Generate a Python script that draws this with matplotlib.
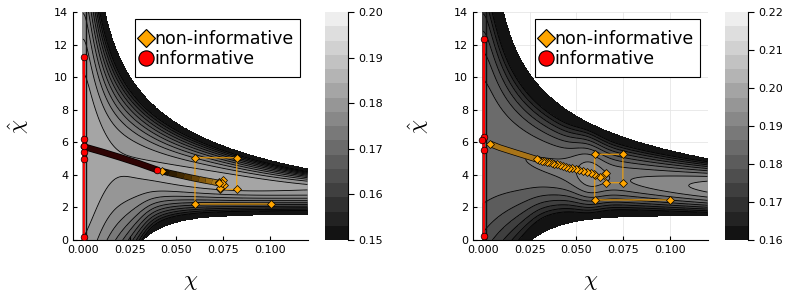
import numpy as np
import matplotlib
matplotlib.use("Agg")
import matplotlib.pyplot as plt
import matplotlib.patheffects as pe
from matplotlib.colors import LinearSegmentedColormap
from matplotlib.lines import Line2D
from matplotlib.patches import Rectangle

plt.rcParams['font.family'] = ['DejaVu Sans']
plt.rcParams['mathtext.fontset'] = 'cm'

# ticks and labels
x_ticks = [0.0, 0.025, 0.05, 0.075, 0.1]
y_ticks = [0, 2, 4, 6, 8, 10, 12, 14]
cbar_ticks_left = [0.15, 0.16, 0.17, 0.18, 0.19, 0.20]
cbar_ticks_right = [0.16, 0.17, 0.18, 0.19, 0.20, 0.21, 0.22]
series_names = ["non-informative", "informative"]

# left panel: non-informative run (simplex steps, then the slow drift)
noninf_L_x = [0.1003, 0.0599, 0.0599, 0.0822, 0.0822, 0.0733, 0.0754, 0.0735, 0.0750, 0.0729, 0.0742, 0.0725]
noninf_L_y = [2.21, 2.21, 5.05, 5.05, 3.11, 3.11, 3.38, 3.22, 3.68, 3.58, 3.47, 3.50]
drift_L_x = [0.0725, 0.0690, 0.0655, 0.0620, 0.0580, 0.0540, 0.0500, 0.0460, 0.0425]
drift_L_y = [3.50, 3.58, 3.65, 3.73, 3.82, 3.92, 4.02, 4.12, 4.22]
# left panel: informative run
inf_L_x = [0.0005, 0.0005, 0.0005, 0.0005, 0.0005, 0.0005]
inf_L_y = [0.20, 11.25, 6.20, 4.95, 5.40, 5.80]
drift_inf_L_x = [0.0005, 0.0100, 0.0200, 0.0300, 0.0398]
drift_inf_L_y = [5.73, 5.42, 5.07, 4.70, 4.30]

# right panel: non-informative run
noninf_R_x = [0.1000, 0.0597, 0.0597, 0.0748, 0.0748, 0.0656, 0.0645, 0.0656, 0.0627, 0.0600]
noninf_R_y = [2.46, 2.46, 5.26, 5.26, 3.52, 3.52, 3.99, 4.09, 3.85, 3.99]
drift_R_x = [0.0595, 0.0575, 0.0555, 0.0535, 0.0515, 0.0495, 0.0477, 0.0460, 0.0443, 0.0427,
             0.0411, 0.0396, 0.0381, 0.0367, 0.0353, 0.0340, 0.0327, 0.0314, 0.0302, 0.0290]
drift_R_y = [4.06, 4.12, 4.18, 4.23, 4.29, 4.35, 4.40, 4.45, 4.50, 4.55,
             4.60, 4.64, 4.69, 4.73, 4.77, 4.81, 4.84, 4.88, 4.92, 4.95]
smear_R_x = [0.0290, 0.0220, 0.0150, 0.0090, 0.0039]
smear_R_y = [4.95, 5.20, 5.45, 5.67, 5.90]
# right panel: informative run
inf_R_x = [0.0005, 0.0005, 0.0005, 0.0005, -0.0003]
inf_R_y = [0.22, 12.36, 5.50, 6.30, 6.15]


def smooth_cap(v, cap, k=6):
    return (v ** -k + cap ** -k) ** (-1.0 / k)


def blend(a, b, x, x0, w):
    s = 1 / (1 + np.exp(-(x - x0) / w))
    return a + (b - a) * s


def ridge_field(Y, h, y_r, y_up, y_lo, c, p):
    u = np.where(Y >= y_r, (Y - y_r) / (y_up - y_r), (y_r - Y) / (y_r - y_lo))
    return h - c * np.clip(u, 0, None) ** p


def surface_left(X, Y):
    xs = np.maximum(X, 1e-5)
    y_up = 4.16 * xs ** -0.33 - 4.0
    y_lo = 1.55 * (1 - np.exp(-(X - 0.032) / 0.015))
    y_lo_f = blend(1.55 - 17.2 * np.exp(-X / 0.018), y_lo, X, 0.032, 0.004)
    h = 0.1811 + 0.00283 * np.exp(-(X / 0.012) ** 2) + 0.0025 * np.exp(-((X - 0.075) / 0.04) ** 2)
    y_r = 3.1 + 2.6 * np.exp(-X / 0.045)
    z = ridge_field(Y, h, y_r, smooth_cap(y_up, 23.0), y_lo_f, 0.04, 2.0)
    return np.ma.masked_where((Y > y_up) | (Y < y_lo), z)


def surface_right(X, Y):
    xs = np.maximum(X, 1e-5)
    y_up = 4.87 * xs ** -0.29 - 4.0
    y_lo = 1.5 * (1 - np.exp(-(X - 0.026) / 0.0169))
    y_lo_f = blend(1.5 - 8.8 * np.exp(-X / 0.02), y_lo, X, 0.026, 0.004)
    h = (0.18584 + 0.00365 * X + 0.6207 * X ** 2
         + 0.00445 * np.exp(-((X - 0.057) / 0.009) ** 2))
    y_r = 3.0 + 3.1 * np.exp(-X / 0.05)
    z = ridge_field(Y, h, y_r, smooth_cap(y_up, 19.0), y_lo_f, 0.04, 2.0)
    return np.ma.masked_where((Y > y_up) | (Y < y_lo), z)


gx = np.linspace(0.0, 0.12, 600)
gy = np.linspace(0.0, 14.0, 600)
X, Y = np.meshgrid(gx, gy)

cmap = LinearSegmentedColormap.from_list("grays", ["#0d0d0d", "#f4f4f4"])
orange = "#FFA500"
red = "#FF0000"

fig = plt.figure(figsize=(8, 3), dpi=100)


def panel(ax_rect, cax_rect, Z, lo, hi, cticks, grid):
    ax = fig.add_axes(ax_rect)
    cax = fig.add_axes(cax_rect)
    levels = np.linspace(lo, hi, 17)
    if grid:
        ax.grid(True, color="#e6e6e6", lw=0.6)
        ax.set_axisbelow(True)
    cf = ax.contourf(X, Y, np.ma.clip(Z, lo + 1e-7, hi - 1e-7), levels=levels,
                     cmap=cmap, vmin=lo, vmax=hi)
    ax.contour(X, Y, Z, levels=levels[1:-1], colors="black", linewidths=0.6)
    ax.axvline(0.0014, color="#111111", lw=1.0, zorder=2)
    ax.set_xlim(-0.0053, 0.1203)
    ax.set_ylim(0, 14)
    ax.set_xticks(x_ticks)
    ax.set_xticklabels(["%.3f" % v for v in x_ticks])
    ax.set_yticks(y_ticks)
    ax.tick_params(direction="in", length=3, width=0.8, labelsize=8, colors="black")
    for s in ("top", "right"):
        ax.spines[s].set_visible(False)
    ax.set_xlabel(r"$\chi$", fontsize=16)
    ax.set_ylabel(r"$\hat{\chi}$", fontsize=16)
    ax.xaxis.set_label_coords(0.5, -0.14)
    ax.yaxis.set_label_coords(-0.18, 0.5)

    cb = fig.colorbar(cf, cax=cax, ticks=cticks, format="%.2f")
    cb.outline.set_visible(False)
    cax.plot([1, 1], [0, 1], transform=cax.transAxes, color="black", lw=0.8, clip_on=False)
    cax.tick_params(direction="out", length=4, width=0.8, labelsize=8, colors="black")
    return ax


def legend(ax):
    # box drawn separately: the original has more room above and below the rows
    ax.add_patch(Rectangle((0.264, 0.715), 0.702, 0.254, transform=ax.transAxes,
                           facecolor="white", edgecolor="black", lw=0.8, zorder=9))
    handles = [
        Line2D([], [], ls="none", marker="D", ms=9.5, mfc=orange, mec="black", mew=0.8),
        Line2D([], [], ls="none", marker="o", ms=11, mfc=red, mec="black", mew=0.8),
    ]
    lg = ax.legend(handles, series_names, loc="center left", bbox_to_anchor=(0.277, 0.838),
                   borderaxespad=0, borderpad=0, fontsize=12.5, handlelength=0.9,
                   handletextpad=0.05, labelspacing=0.12, frameon=False)
    lg.set_zorder(10)


def dark_stroke(w):
    return [pe.Stroke(linewidth=w, foreground="black"), pe.Normal()]


# ---- left panel ----
axL = panel([73 / 800, 60 / 300, 235 / 800, 228 / 300], [325 / 800, 60 / 300, 23 / 800, 228 / 300],
            surface_left(X, Y), 0.15, 0.20, cbar_ticks_left, grid=False)
axL.plot(noninf_L_x + drift_L_x, noninf_L_y + drift_L_y, color=orange, alpha=0.75, lw=1.0, zorder=3)
drift_cmap = LinearSegmentedColormap.from_list("drift", ["#b07c18", "#5a3a04", "#1e1200"])
for i in range(len(drift_L_x) - 1):
    axL.plot(drift_L_x[i:i + 2], drift_L_y[i:i + 2], color=drift_cmap(i / (len(drift_L_x) - 2)),
             lw=3.6, solid_capstyle="butt", zorder=4, path_effects=dark_stroke(4.6))
axL.plot(noninf_L_x, noninf_L_y, ls="none", marker="D", ms=3.6, mfc=orange, mec="black", mew=0.5, zorder=5)
axL.plot(drift_L_x[-1:], drift_L_y[-1:], ls="none", marker="D", ms=3.6, mfc=orange, mec="black", mew=0.5, zorder=5)
axL.plot(inf_L_x + drift_inf_L_x, inf_L_y + drift_inf_L_y, color=red, lw=1.5, zorder=3)
axL.plot(drift_inf_L_x, drift_inf_L_y, color="#2e0404", lw=3.8, solid_capstyle="round", zorder=4,
         path_effects=dark_stroke(4.8))
axL.plot(inf_L_x + drift_inf_L_x[-1:], inf_L_y + drift_inf_L_y[-1:], ls="none", marker="o", ms=4.8,
         mfc=red, mec="black", mew=0.5, zorder=5)
legend(axL)

# ---- right panel ----
axR = panel([473 / 800, 60 / 300, 235 / 800, 228 / 300], [725 / 800, 60 / 300, 23 / 800, 228 / 300],
            surface_right(X, Y), 0.16, 0.22, cbar_ticks_right, grid=True)
axR.plot(noninf_R_x + drift_R_x + smear_R_x, noninf_R_y + drift_R_y + smear_R_y,
         color=orange, alpha=0.75, lw=1.0, zorder=3)
axR.plot(smear_R_x, smear_R_y, color="#a87418", lw=3.6, solid_capstyle="butt", zorder=4,
         path_effects=dark_stroke(4.6))
axR.plot(noninf_R_x + drift_R_x + smear_R_x[-1:], noninf_R_y + drift_R_y + smear_R_y[-1:],
         ls="none", marker="D", ms=3.8, mfc=orange, mec="black", mew=0.5, zorder=5)
axR.plot(inf_R_x, inf_R_y, color=red, lw=1.5, zorder=3)
axR.plot(inf_R_x, inf_R_y, ls="none", marker="o", ms=4.8, mfc=red, mec="black", mew=0.5, zorder=5)
legend(axR)

fig.savefig("out.png", dpi=100)
